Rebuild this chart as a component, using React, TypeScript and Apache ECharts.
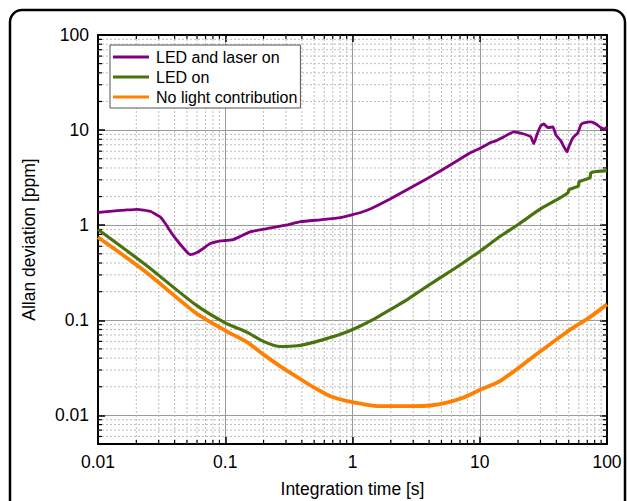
import React, { useEffect, useRef } from "react";
import * as echarts from "echarts";

// ---- Data ----
const ledLaserX = [0.01, 0.0124, 0.0163, 0.0203, 0.0257, 0.0308, 0.0335, 0.0369, 0.0405, 0.0442, 0.0502, 0.053, 0.06, 0.0671, 0.0762, 0.0865, 0.1, 0.1156, 0.131, 0.157, 0.214, 0.3, 0.39, 0.56, 0.805, 1.0, 1.16, 1.39, 1.99, 2.86, 4.11, 5.91, 8.5, 10.2, 12.2, 13.4, 15.5, 18.5, 22.2, 25.2, 26.6, 28.1, 30.2, 31.9, 34.3, 37.6, 39.6, 43.4, 45.8, 48.4, 50.2, 54, 59.1, 62.4, 65.9, 74.8, 81.9, 89.7, 96.4, 100];
const ledLaserY = [1.36, 1.4, 1.44, 1.47, 1.4, 1.22, 1.06, 0.87, 0.73, 0.63, 0.52, 0.49, 0.515, 0.568, 0.641, 0.673, 0.69, 0.706, 0.759, 0.85, 0.92, 1.0, 1.09, 1.14, 1.2, 1.29, 1.36, 1.49, 1.9, 2.48, 3.24, 4.32, 5.8, 6.5, 7.4, 7.7, 8.5, 9.6, 9.1, 8.5, 7.2, 8.9, 11.1, 11.6, 10.6, 10.8, 8.9, 7.7, 6.7, 5.9, 6.7, 8.3, 9.4, 11.4, 11.9, 12.2, 11.6, 10.6, 10.3, 10.8];

const ledX = [0.01, 0.0235, 0.058, 0.1, 0.149, 0.199, 0.271, 0.369, 0.493, 0.671, 0.805, 1.09, 1.46, 1.99, 2.71, 3.62, 4.93, 6.71, 8.97, 10, 14.4, 19.9, 30.2, 41.7, 49.5, 50.2, 59.5, 60.5, 73.5, 74.8, 100];
const ledY = [0.9, 0.386, 0.147, 0.094, 0.0746, 0.06, 0.053, 0.054, 0.0586, 0.066, 0.0711, 0.084, 0.102, 0.13, 0.166, 0.216, 0.282, 0.368, 0.48, 0.529, 0.76, 1.01, 1.49, 1.9, 2.2, 2.36, 2.58, 2.87, 3.16, 3.56, 3.74];

const noLightX = [0.01, 0.0235, 0.058, 0.1, 0.149, 0.199, 0.271, 0.369, 0.493, 0.671, 0.914, 1.22, 1.66, 2.26, 3.02, 4.11, 5.6, 7.48, 10, 14.4, 26.6, 49.3, 74.8, 100];
const noLightY = [0.746, 0.326, 0.121, 0.078, 0.0586, 0.0438, 0.0328, 0.0252, 0.0198, 0.0159, 0.0141, 0.0131, 0.0125, 0.0125, 0.0125, 0.0127, 0.0137, 0.0154, 0.0185, 0.0229, 0.0418, 0.0766, 0.11, 0.147];

const seriesNames = ["LED and laser on", "LED on", "No light contribution"];
const seriesColors = ["#800080", "#4a730f", "#ff8000"];

// grid-line positions
const minorMultipliers = [2, 3, 4, 5, 6, 7, 8, 9];
const xDecades = [0.01, 0.1, 1, 10];
const yDecades = [0.001, 0.01, 0.1, 1, 10];
const X_MIN = 0.01, X_MAX = 100, Y_MIN = 0.005, Y_MAX = 100;

const FONT = "Liberation Sans, Arial, Helvetica, sans-serif";

function zip(xs: number[], ys: number[]) {
  return xs.map((x, i) => [x, ys[i]]);
}

function isDecade(v: number) {
  const l = Math.log10(v);
  return Math.abs(l - Math.round(l)) < 1e-6;
}

export default function App() {
  const ref = useRef<HTMLDivElement>(null);
  useEffect(() => {
    if (!ref.current) return;
    const chart = echarts.init(ref.current, null, { renderer: "svg" });

    const minorData: number[][] = [];
    xDecades.forEach((d) =>
      minorMultipliers.forEach((m) => {
        const v = d * m;
        if (v > X_MIN && v < X_MAX) minorData.push([v, 1, 0]);
      })
    );
    yDecades.forEach((d) =>
      minorMultipliers.forEach((m) => {
        const v = d * m;
        if (v > Y_MIN && v < Y_MAX) minorData.push([1, v, 1]);
      })
    );

    const axisLabelX = {
      show: true,
      fontFamily: FONT,
      fontSize: 17.5,
      color: "#000",
      margin: 9,
      formatter: (v: number) => (isDecade(v) ? String(+v.toPrecision(6)) : ""),
    };
    const axisLabelY = { ...axisLabelX, margin: 9 };

    const option: any = {
      animation: false,
      backgroundColor: "#fff",
      grid: { left: 98, top: 35, right: 20, bottom: 57, containLabel: false, outerBoundsMode: "none" },
      graphic: [
        {
          type: "rect",
          shape: { x: 10, y: 10, width: 615, height: 540, r: 12 },
          style: { fill: "none", stroke: "#000", lineWidth: 2.5 },
          silent: true,
          z: 100,
        },
      ],
      legend: {
        data: seriesNames,
        orient: "vertical",
        left: 110,
        top: 45,
        backgroundColor: "#fff",
        borderColor: "#555",
        borderWidth: 1,
        padding: [4, 3, 3, 3],
        itemGap: 4,
        itemWidth: 36,
        itemHeight: 3,
        icon: "rect",
        textStyle: { fontFamily: FONT, fontSize: 16, color: "#000", lineHeight: 16, padding: [0, 0, 0, 2] },
        z: 10,
      },
      xAxis: [
        {
          type: "log",
          logBase: 10,
          min: X_MIN,
          max: X_MAX,
          name: "Integration time [s]",
          nameLocation: "middle",
          nameGap: 36,
          nameTextStyle: { fontFamily: FONT, fontSize: 17.5, color: "#000" },
          axisLine: { show: true, onZero: false, lineStyle: { color: "#000", width: 2 } },
          axisTick: { show: true, inside: true, length: 7, lineStyle: { color: "#000", width: 1.5 } },
          axisLabel: axisLabelX,
          splitLine: { show: true, lineStyle: { color: "#9a9a9a", width: 1 } },
          minorTick: { show: false },
          minorSplitLine: { show: false },
        },
        {
          type: "log",
          logBase: 10,
          min: X_MIN,
          max: X_MAX,
          position: "top",
          axisLine: { show: true, onZero: false, lineStyle: { color: "#000", width: 2 } },
          axisTick: { show: true, inside: true, length: 7, lineStyle: { color: "#000", width: 1.5 } },
          axisLabel: { show: false },
          splitLine: { show: false },
        },
      ],
      yAxis: [
        {
          type: "log",
          logBase: 10,
          min: Y_MIN,
          max: Y_MAX,
          name: "Allan deviation [ppm]",
          nameLocation: "middle",
          nameGap: 60,
          nameRotate: 90,
          nameTextStyle: { fontFamily: FONT, fontSize: 17.5, color: "#000" },
          axisLine: { show: true, onZero: false, lineStyle: { color: "#000", width: 2 } },
          axisTick: { show: true, inside: true, length: 7, lineStyle: { color: "#000", width: 1.5 } },
          axisLabel: axisLabelY,
          splitLine: { show: true, lineStyle: { color: "#9a9a9a", width: 1 } },
        },
        {
          type: "log",
          logBase: 10,
          min: Y_MIN,
          max: Y_MAX,
          position: "right",
          axisLine: { show: true, onZero: false, lineStyle: { color: "#000", width: 2 } },
          axisTick: { show: true, inside: true, length: 7, lineStyle: { color: "#000", width: 1.5 } },
          axisLabel: { show: false },
          splitLine: { show: false },
        },
      ],
      series: [
        {
          type: "custom",
          name: "minor",
          silent: true,
          xAxisIndex: 0,
          yAxisIndex: 0,
          z: 1,
          clip: false,
          encode: { x: 0, y: 1 },
          data: minorData,
          renderItem: (params: any, api: any) => {
            const cs = params.coordSys;
            const kind = api.value(2);
            const stroke = "#bdbdbd";
            if (kind === 0) {
              const x = api.coord([api.value(0), 1])[0];
              return {
                type: "group",
                children: [
                  { type: "line", shape: { x1: x, y1: cs.y, x2: x, y2: cs.y + cs.height }, style: { stroke, lineWidth: 1, lineDash: [2, 2] } },
                  { type: "line", shape: { x1: x, y1: cs.y + cs.height, x2: x, y2: cs.y + cs.height - 4 }, style: { stroke: "#000", lineWidth: 1.2 } },
                  { type: "line", shape: { x1: x, y1: cs.y, x2: x, y2: cs.y + 4 }, style: { stroke: "#000", lineWidth: 1.2 } },
                ],
              };
            }
            const y = api.coord([1, api.value(1)])[1];
            return {
              type: "group",
              children: [
                { type: "line", shape: { x1: cs.x, y1: y, x2: cs.x + cs.width, y2: y }, style: { stroke, lineWidth: 1, lineDash: [2, 2] } },
                { type: "line", shape: { x1: cs.x, y1: y, x2: cs.x + 4, y2: y }, style: { stroke: "#000", lineWidth: 1.2 } },
                { type: "line", shape: { x1: cs.x + cs.width, y1: y, x2: cs.x + cs.width - 4, y2: y }, style: { stroke: "#000", lineWidth: 1.2 } },
              ],
            };
          },
        },
        {
          type: "line",
          name: seriesNames[0],
          data: zip(ledLaserX, ledLaserY),
          showSymbol: false,
          symbol: "none",
          smooth: 0.15,
          lineStyle: { color: seriesColors[0], width: 2.8 },
          itemStyle: { color: seriesColors[0] },
          z: 5,
        },
        {
          type: "line",
          name: seriesNames[1],
          data: zip(ledX, ledY),
          showSymbol: false,
          symbol: "none",
          smooth: 0.25,
          lineStyle: { color: seriesColors[1], width: 3.2 },
          itemStyle: { color: seriesColors[1] },
          z: 4,
        },
        {
          type: "line",
          name: seriesNames[2],
          data: zip(noLightX, noLightY),
          showSymbol: false,
          symbol: "none",
          smooth: 0.25,
          lineStyle: { color: seriesColors[2], width: 3.8 },
          itemStyle: { color: seriesColors[2] },
          z: 3,
        },
      ],
    };
    chart.setOption(option);
    return () => chart.dispose();
  }, []);
  return (
    <div
      ref={ref}
      style={{ position: "fixed", left: 0, top: 0, width: 627, height: 501, background: "#fff" }}
    />
  );
}
